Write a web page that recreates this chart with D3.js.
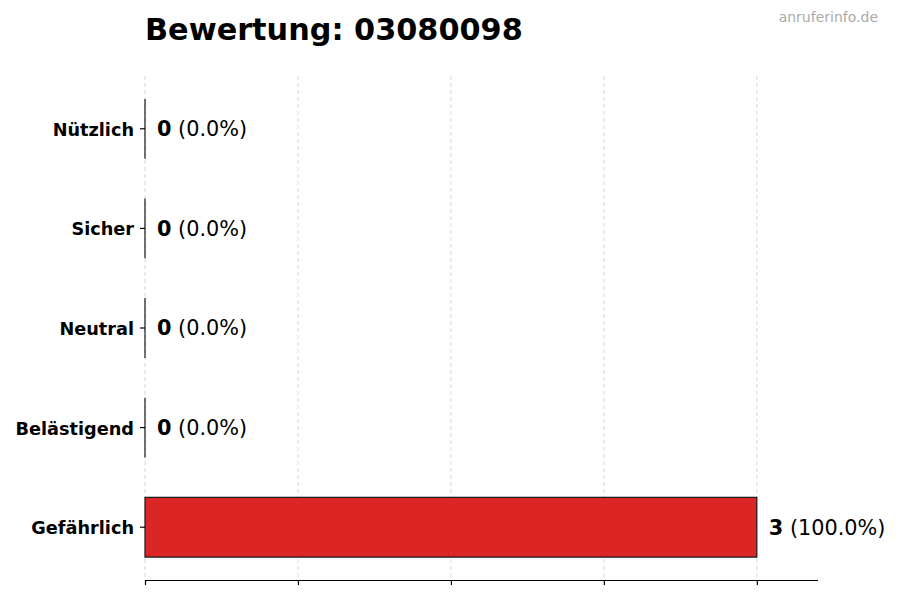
<!DOCTYPE html>
<html>
<head>
<meta charset="utf-8">
<script src="https://cdn.jsdelivr.net/npm/d3@7"></script>
<style>
  body { margin: 0; background: #fff; }
  text { font-family: "DejaVu Sans", sans-serif; }
</style>
</head>
<body>
<div class="barChart"></div>
<script>
var categories = ["Nützlich", "Sicher", "Neutral", "Belästigend", "Gefährlich"];
var counts = [0, 0, 0, 0, 3];
var barColors = ["#16a34a", "#2563eb", "#9ca3af", "#f59e0b", "#dc2626"];
var xTicks = [0, 0.75, 1.5, 2.25, 3];
var xMax = 3.3;
var number = "03080098";

plotBarChart();

function plotBarChart(){
  var width = 900, height = 600;
  var margin = {top: 76, right: 82, bottom: 20, left: 145};

  var svg = d3.select(".barChart")
              .append("svg")
              .attr("width", width)
              .attr("height", height);

  var x = d3.scaleLinear()
            .domain([0, xMax])
            .range([margin.left, width - margin.right]);

  var y = d3.scaleBand()
            .domain(categories)
            .range([margin.top, height - margin.bottom])
            .paddingInner(0.4)
            .paddingOuter(0.23);

  var total = d3.sum(counts);

  // title + watermark
  svg.append("text")
    .attr("x", margin.left)
    .attr("y", 40)
    .style("font-size", "30.3px")
    .style("font-weight", "bold")
    .text("Bewertung: " + number);

  svg.append("text")
    .attr("x", 878)
    .attr("y", 22)
    .attr("text-anchor", "end")
    .style("font-size", "14px")
    .style("fill", "#aaaaaa")
    .text("anruferinfo.de");

  // vertical grid
  svg.append("g")
    .selectAll("line")
    .data(xTicks)
    .enter()
    .append("line")
    .attr("x1", d => x(d)).attr("x2", d => x(d))
    .attr("y1", margin.top).attr("y2", height - margin.bottom)
    .attr("stroke", "#d6d6d6")
    .attr("stroke-width", 1)
    .attr("stroke-dasharray", "4,3");

  // bars (paths so zero-width bars still show their edge)
  svg.append("g")
    .selectAll("path")
    .data(categories)
    .enter()
    .append("path")
    .attr("d", function(c, i){
      var x0 = x(0), x1 = x(counts[i]), y0 = y(c), y1 = y(c) + y.bandwidth();
      return "M" + x0 + "," + y0 + "H" + x1 + "V" + y1 + "H" + x0 + "Z";
    })
    .attr("fill", (c, i) => barColors[i])
    .attr("stroke", "#1a1a1a")
    .attr("stroke-width", 1.2);

  // value labels
  var labels = svg.append("g")
    .selectAll("text")
    .data(categories)
    .enter()
    .append("text")
    .attr("x", (c, i) => x(counts[i]) + 12)
    .attr("y", c => y(c) + y.bandwidth() / 2)
    .attr("dy", "0.36em")
    .style("font-size", "20.8px");

  labels.append("tspan")
    .style("font-weight", "bold")
    .text((c, i) => counts[i]);

  labels.append("tspan")
    .text((c, i) => " (" + (total ? counts[i] / total * 100 : 0).toFixed(1) + "%)");

  // x axis: spine + ticks, no labels
  var xAxis = svg.append("g")
    .attr("transform", "translate(0," + (height - margin.bottom) + ")")
    .call(d3.axisBottom(x).tickValues(xTicks).tickSize(5).tickFormat(""));
  xAxis.select(".domain").attr("d", "M" + x(0) + ",0.5H" + x(xMax)).attr("stroke-width", 1.2);
  xAxis.selectAll(".tick line").attr("stroke-width", 1.2);

  // y axis: ticks + labels, no spine
  var yAxis = svg.append("g")
    .attr("transform", "translate(" + margin.left + ",0)")
    .call(d3.axisLeft(y).tickSize(5).tickPadding(6));
  yAxis.select(".domain").remove();
  yAxis.selectAll(".tick line").attr("stroke-width", 1.2);
  yAxis.selectAll(".tick text")
    .attr("dy", "0.4em")
    .style("font-size", "17.7px")
    .style("font-weight", "bold")
    .style("font-family", "DejaVu Sans")
    .attr("fill", "#000");
}
</script>
</body>
</html>
